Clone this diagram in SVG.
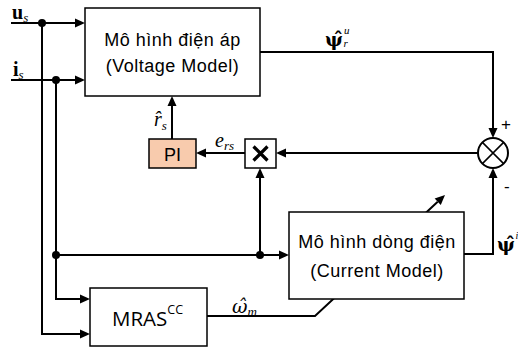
<svg xmlns="http://www.w3.org/2000/svg" width="518" height="350" viewBox="0 0 518 350">
<defs>
<marker id="ah" markerUnits="userSpaceOnUse" markerWidth="10" markerHeight="9" refX="0" refY="4.5" orient="auto" overflow="visible">
<path d="M0,0 L10,4.5 L0,9 Z" fill="#000"/>
</marker>
</defs>
<style>
.ln{fill:none;stroke:#000;stroke-width:2}
.ar{marker-end:url(#ah)}
.box{fill:#fff;stroke:#000;stroke-width:1.5}
.dot{fill:#000}
.t{font-family:"Liberation Sans",Arial,sans-serif;font-size:18px;letter-spacing:0.5px;text-anchor:middle;fill:#000}
.m{font-family:"Liberation Serif","Times New Roman",serif;font-style:italic;font-weight:normal;fill:#000}
.b{font-family:"Liberation Serif","Times New Roman",serif;font-weight:bold;fill:#000}
.g{font-family:"DejaVu Serif",serif}
</style>
<rect width="518" height="350" fill="#fff"/>
<g id="connectors">
<path class="ln ar" d="M11,23 H75"/>
<path class="ln ar" d="M11,80 H75"/>
<path class="ln ar" d="M42,23 V334 H80"/>
<path class="ln ar" d="M56,80 V299 H80"/>
<path class="ln ar" d="M56,255 H279"/>
<path class="ln ar" d="M260,255 V178"/>
<path class="ln ar" d="M260,52 H493 V128"/>
<path class="ln ar" d="M464,254 H493 V178"/>
<path class="ln ar" d="M478,153 H286"/>
<path class="ln ar" d="M245,153 H206"/>
<path class="ln ar" d="M172,139 V106"/>
<path class="ln ar" d="M207,316 H315 L437.7,201.8"/>
<circle class="dot" cx="42" cy="23" r="4"/>
<circle class="dot" cx="56" cy="80" r="4"/>
<circle class="dot" cx="56" cy="255" r="4"/>
<circle class="dot" cx="260" cy="255" r="4"/>
</g>
<g id="voltage-model">
<rect class="box" x="85" y="8" width="175" height="88"/>
<text class="t" x="172.5" y="45.5">Mô hình điện áp</text>
<text class="t" x="172.5" y="72">(Voltage Model)</text>
</g>
<g id="current-model">
<rect class="box" x="289" y="212" width="175" height="87"/>
<text class="t" x="377" y="248">Mô hình dòng điện</text>
<text class="t" x="377" y="276.5">(Current Model)</text>
</g>
<g id="mras">
<rect class="box" x="90" y="288" width="117" height="58"/>
<text x="112" y="326" font-family="'Open Sans','Liberation Sans',sans-serif" font-size="20.5">MRAS<tspan font-size="12.5" dy="-12">CC</tspan></text>
</g>
<g id="pi">
<rect x="149" y="139" width="47" height="29" fill="#F8CBAD" stroke="#000" stroke-width="1.5"/>
<text class="t" x="172.5" y="161" style="letter-spacing:0">PI</text>
</g>
<g id="multiplier">
<rect class="box" x="245" y="139" width="31" height="29" stroke-width="2"/>
<path d="M253.5,146.5 L267.5,160.5 M267.5,146.5 L253.5,160.5" stroke="#000" stroke-width="3.2" fill="none"/>
</g>
<g id="sum">
<circle cx="493" cy="153" r="15" fill="#fff" stroke="#000" stroke-width="2"/>
<path d="M482.4,142.4 L503.6,163.6 M503.6,142.4 L482.4,163.6" stroke="#000" stroke-width="1.5"/>
<text x="501" y="130" font-family="'Liberation Sans',sans-serif" font-size="17">+</text>
<text x="504" y="192" font-family="'Liberation Sans',sans-serif" font-size="17">-</text>
</g>
<g id="labels">
<text class="b" x="12" y="19" font-size="20">u<tspan class="m" font-size="13" dy="3">s</tspan></text>
<text class="b" x="13" y="76" font-size="20">i<tspan class="m" font-size="13" dy="3">s</tspan></text>
<text class="b" x="325" y="46" font-size="19"><tspan class="g">ψ̂</tspan><tspan class="m" font-size="11" dx="1" dy="-12">u</tspan><tspan class="m" font-size="11" dx="-6" dy="13">r</tspan></text>
<text class="m" x="154" y="126" font-size="20">r̂<tspan font-size="13" dy="4">s</tspan></text>
<text class="m" x="215" y="147" font-size="20">e<tspan font-size="13" dy="3">rs</tspan></text>
<text class="m" x="232" y="313" font-size="19"><tspan class="g">ω̂</tspan><tspan font-size="13" dy="3">m</tspan></text>
<text class="b" x="497" y="251" font-size="19"><tspan class="g">ψ̂</tspan><tspan class="m" font-size="10" dx="0.5" dy="-12">i</tspan></text>
</g>
</svg>
